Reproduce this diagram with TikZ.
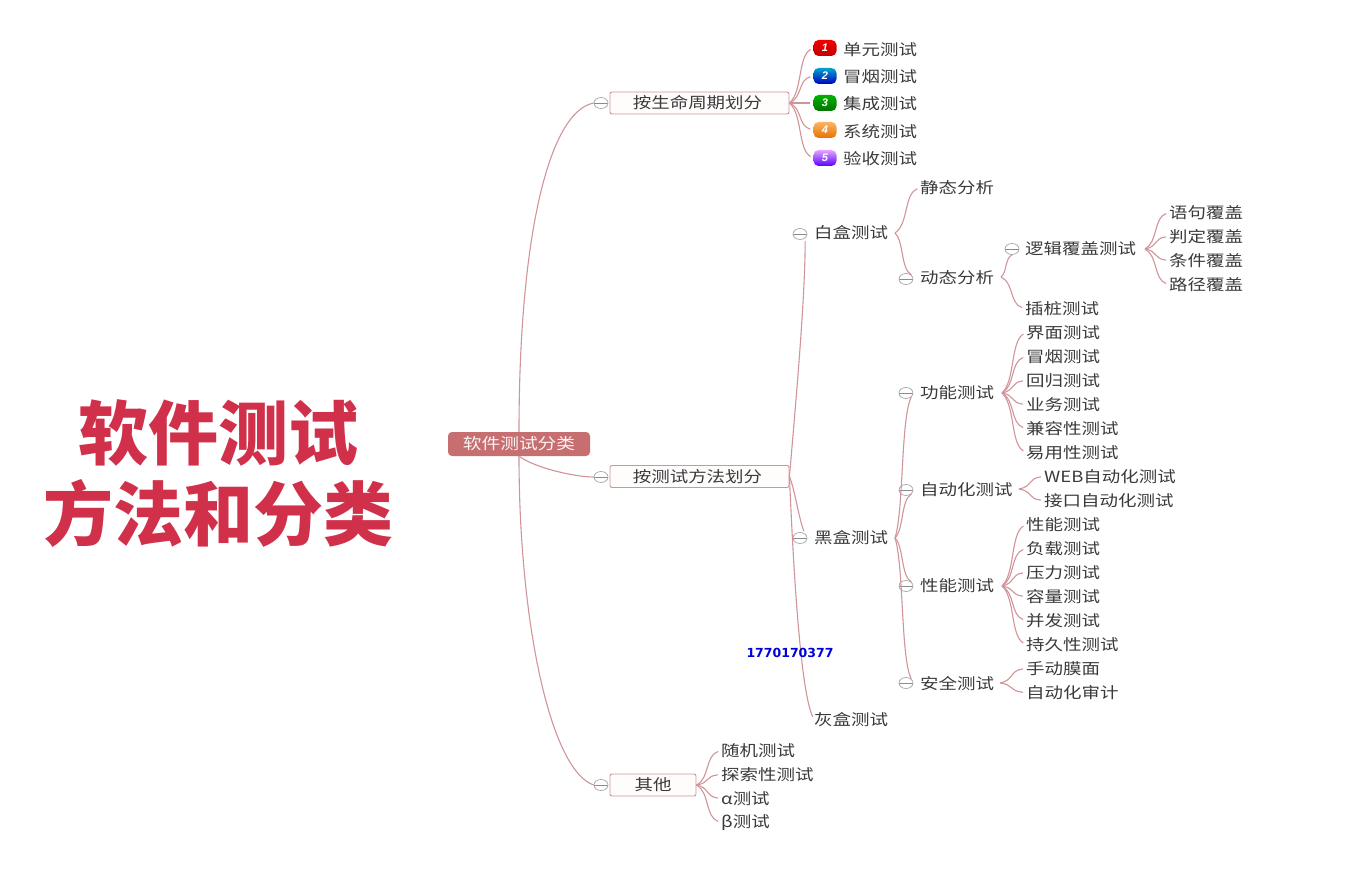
\documentclass[tikz,border=0pt]{standalone}
\usepackage{fontspec}
\setmainfont[FakeStretch=1.2]{Noto Sans CJK SC}
\newfontfamily\titlefont{Noto Sans CJK SC}
\newfontfamily\numfont{DejaVu Sans}
\newfontfamily\pillfont{Liberation Sans}
\usetikzlibrary{shapes.geometric,calc}
\definecolor{linecol}{HTML}{D09499}
\definecolor{txtcol}{HTML}{3A3A3A}
\definecolor{rootcol}{HTML}{C76F70}
\definecolor{titlecol}{HTML}{D1304A}
\tikzset{
  item/.style={anchor=west,inner sep=0pt,text=txtcol,font=\fontsize{15.4}{15.4}\selectfont},
  rootbox/.style={fill=rootcol,rounded corners=4pt,minimum width=142pt,minimum height=24pt,inner sep=0pt,text=white!92!rootcol,font=\fontsize{15.6}{15.6}\selectfont},
  catbox/.style={draw=linecol,fill=red!1,rounded corners=2pt,line width=.9pt,minimum height=22pt,inner sep=0pt,text=txtcol,font=\fontsize{15.4}{15.4}\selectfont},
  fold/.style={ellipse,draw=black!35,fill=white,line width=.7pt,minimum width=14pt,minimum height=11pt,inner sep=0pt,
    path picture={\draw[black!45,line width=.7pt] (path picture bounding box.west)--(path picture bounding box.east);}},
  pill/.style={rounded corners=5pt,minimum width=23pt,minimum height=16pt,inner sep=0pt,text=white,font=\pillfont\fontsize{11}{11}\bfseries\itshape},
  stem/.style={draw=linecol,line width=1.1pt},
  twig/.style={stem,shorten >=3pt,to path={
    let \p1=(\tikztostart),\p2=(\tikztotarget) in
    .. controls (\x1+.55*\x2-.55*\x1,\y1+.2*\y2-.2*\y1) and (\x1+.35*\x2-.35*\x1,\y1+.85*\y2-.85*\y1) .. (\tikztotarget)}},
  bigtitle/.style={inner sep=0pt,text=titlecol,font=\titlefont\fontsize{70}{70}\bfseries},
}
\begin{document}
\begin{tikzpicture}[x=1pt,y=-1pt]
    \useasboundingbox (0,0) rectangle (1371,869);
    % title
    \node[bigtitle] (title1) at (218,433) {软件测试};
    \node[bigtitle] (title2) at (218,513) {方法和分类};
    % top of the tree
    \node[rootbox] (root) at (519,444) {软件测试分类};
    \node[catbox,minimum width=179pt] (life) at (699.5,103) {\hspace*{-4pt}按生命周期划分};
    \node[catbox,minimum width=179pt] (method) at (699.5,476.5) {\hspace*{-4pt}按测试方法划分};
    \node[catbox,minimum width=86pt] (other) at (653,785) {其他};
    \node[fold] (lifefold) at (601,103) {};
    \node[fold] (methodfold) at (601,477) {};
    \node[fold] (otherfold) at (601,785) {};
    % life cycle
    \node[pill,top color=red!95!black,bottom color=red!75!black] (p1) at (825,48) {1};
    \node[pill,top color=blue!20!cyan!80!black,bottom color=blue!75!black] (p2) at (825,76) {2};
    \node[pill,top color=green!70!black,bottom color=green!45!black] (p3) at (825,103) {3};
    \node[pill,top color=orange!60!white,bottom color=orange!90!black] (p4) at (825,130) {4};
    \node[pill,top color=blue!30!magenta!35!white,bottom color=blue!65!magenta] (p5) at (825,158) {5};
    \node[item] (unit) at (843,49.5) {单元测试};
    \node[item] (smoke) at (843,76.5) {冒烟测试};
    \node[item] (integ) at (843,103.5) {集成测试};
    \node[item] (sys) at (843,131.5) {系统测试};
    \node[item] (accept) at (843,158.5) {验收测试};
    % white box
    \node[item] (white) at (814,232.5) {白盒测试};
    \node[fold] (whitefold) at (800,234) {};
    \coordinate (whitetip) at (895,233);
    \node[item] (static) at (920,187.5) {静态分析};
    \node[item] (dynamic) at (920,277.5) {动态分析};
    \node[fold] (dynfold) at (906,279) {};
    \coordinate (dyntip) at (1001,277);
    \node[item] (logic) at (1025,248.5) {逻辑覆盖测试};
    \node[fold] (logicfold) at (1012,249) {};
    \coordinate (logictip) at (1145,249);
    \node[item] (stub) at (1025,308.5) {插桩测试};
    \node[item] (cov1) at (1169,212.5) {语句覆盖};
    \node[item] (cov2) at (1169,236.5) {判定覆盖};
    \node[item] (cov3) at (1169,260.5) {条件覆盖};
    \node[item] (cov4) at (1169,284.5) {路径覆盖};
    % black box
    \node[item] (black) at (814,537.5) {黑盒测试};
    \node[fold] (blackfold) at (800,538) {};
    \coordinate (blacktip) at (895,538);
    \node[item] (func) at (920,392.5) {功能测试};
    \node[fold] (funcfold) at (906,393) {};
    \coordinate (functip) at (1002,393);
    \node[item] (auto) at (920,489.5) {自动化测试};
    \node[fold] (autofold) at (906,490) {};
    \coordinate (autotip) at (1019,489);
    \node[item] (perf) at (920,585.5) {性能测试};
    \node[fold] (perffold) at (906,586) {};
    \coordinate (perftip) at (1002,586);
    \node[item] (secu) at (920,683.5) {安全测试};
    \node[fold] (secufold) at (906,683) {};
    \coordinate (secutip) at (1000,683);
    \node[item] (f1) at (1026,332.5) {界面测试};
    \node[item] (f2) at (1026,356.5) {冒烟测试};
    \node[item] (f3) at (1026,380.5) {回归测试};
    \node[item] (f4) at (1026,404.5) {业务测试};
    \node[item] (f5) at (1026,428.5) {兼容性测试};
    \node[item] (f6) at (1026,452.5) {易用性测试};
    \node[item] (a1) at (1044,476.5) {WEB自动化测试};
    \node[item] (a2) at (1044,500.5) {接口自动化测试};
    \node[item] (n1) at (1026,524.5) {性能测试};
    \node[item] (n2) at (1026,548.5) {负载测试};
    \node[item] (n3) at (1026,572.5) {压力测试};
    \node[item] (n4) at (1026,596.5) {容量测试};
    \node[item] (n5) at (1026,620.5) {并发测试};
    \node[item] (n6) at (1026,644.5) {持久性测试};
    \node[item] (s1) at (1026,668.5) {手动膜面};
    \node[item] (s2) at (1026,692.5) {自动化审计};
    % gray box and others
    \node[item] (gray) at (814,719.5) {灰盒测试};
    \node[item] (o1) at (721,750.5) {随机测试};
    \node[item] (o2) at (721,774.5) {探索性测试};
    \node[item] (o3) at (721,798.5) {α测试};
    \node[item] (o4) at (721,822.5) {β测试};
    % connectors
    \draw[stem] (root.north) .. controls (519,240) and (548,112) .. (lifefold.west);
    \draw[stem] (root.south) .. controls (519,620) and (550,770) .. (otherfold.west);
    \draw[stem] (root.south) .. controls (535,468) and (575,477) .. (methodfold.west);
    \draw[twig] (life.east) to (p1.west);
    \draw[twig] (life.east) to (p2.west);
    \draw[twig] (life.east) -- (p3.west);
    \draw[twig] (life.east) to (p4.west);
    \draw[twig] (life.east) to (p5.west);
    \draw[twig] (method.east) .. controls (796,400) and (805,300) .. (whitefold.south east);
    \draw[twig] (method.east) .. controls (795,490) and (799,520) .. (blackfold.north east);
    \draw[twig] (method.east) .. controls (793,560) and (800,690) .. (gray.west);
    \draw[twig] (other.east) to (o1.west);
    \draw[twig] (other.east) to (o2.west);
    \draw[twig] (other.east) to (o3.west);
    \draw[twig] (other.east) to (o4.west);
    \draw[twig] (whitetip) to (static.west);
    \draw[twig,shorten >=0pt] (whitetip) to (dynfold.north east);
    \draw[twig,shorten >=0pt] (dyntip) to (logicfold.south);
    \draw[twig] (dyntip) to (stub.west);
    \draw[twig] (logictip) to (cov1.west);
    \draw[twig] (logictip) to (cov2.west);
    \draw[twig] (logictip) to (cov3.west);
    \draw[twig] (logictip) to (cov4.west);
    \draw[twig,shorten >=0pt] (blacktip) to (funcfold.south east);
    \draw[twig,shorten >=0pt] (blacktip) to (autofold.south east);
    \draw[twig,shorten >=0pt] (blacktip) to (perffold.north east);
    \draw[twig,shorten >=0pt] (blacktip) to (secufold.north east);
    \draw[twig] (functip) to (f1.west);
    \draw[twig] (functip) to (f2.west);
    \draw[twig] (functip) to (f3.west);
    \draw[twig] (functip) to (f4.west);
    \draw[twig] (functip) to (f5.west);
    \draw[twig] (functip) to (f6.west);
    \draw[twig] (autotip) to (a1.west);
    \draw[twig] (autotip) to (a2.west);
    \draw[twig] (perftip) to (n1.west);
    \draw[twig] (perftip) to (n2.west);
    \draw[twig] (perftip) to (n3.west);
    \draw[twig] (perftip) to (n4.west);
    \draw[twig] (perftip) to (n5.west);
    \draw[twig] (perftip) to (n6.west);
    \draw[twig] (secutip) to (s1.west);
    \draw[twig] (secutip) to (s2.west);
    % number on top of the lines
    \node[inner sep=0pt,text=blue!85!black,font=\numfont\fontsize{12.5}{12.5}\bfseries] (phone) at (790,653) {1770170377};
\end{tikzpicture}
\end{document}
